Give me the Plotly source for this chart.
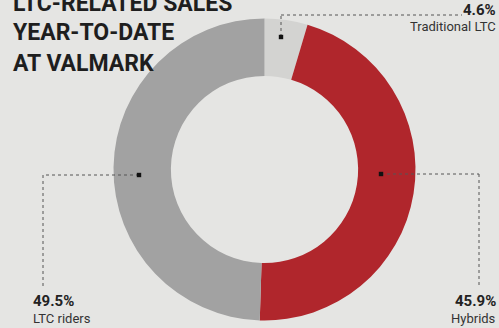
import plotly.graph_objects as go

W, H = 499, 328

labels = ["Traditional LTC", "Hybrids", "LTC riders"]
values = [4.6, 45.9, 49.5]
pct_text = ["4.6%", "45.9%", "49.5%"]
colors = ["#d3d3d1", "#b0262c", "#a2a2a2"]
title_lines = ["LTC-RELATED SALES", "YEAR-TO-DATE", "AT VALMARK"]

BG = "#e5e5e3"
COND = "Roboto, DejaVu Sans Condensed, sans-serif"


def px(x):
    return x / W


def py(y):
    return 1 - y / H


cx, cy, R = 264.5, 169.5, 151

fig = go.Figure()
fig.add_trace(go.Pie(
    labels=labels, values=values, sort=False, direction="clockwise", rotation=0,
    hole=0.62, marker=dict(colors=colors, line=dict(width=0)),
    textinfo="none", hoverinfo="label+percent", showlegend=False,
    domain=dict(x=[px(cx - R), px(cx + R)], y=[py(cy + R), py(cy - R)]),
))

shapes = []
dot = dict(color="#555555", width=1, dash="dot")


def line(x0, y0, x1, y1):
    shapes.append(dict(type="line", xref="paper", yref="paper",
                       x0=px(x0), y0=py(y0), x1=px(x1), y1=py(y1), line=dot))


def marker(x, y, s=2.2):
    shapes.append(dict(type="rect", xref="paper", yref="paper",
                       x0=px(x - s), x1=px(x + s), y0=py(y + s), y1=py(y - s),
                       fillcolor="#111111", line=dict(width=0)))


# Traditional LTC leader
line(281, 37, 281, 15)
line(281, 15, 462, 15)
marker(281, 37)
# Hybrids leader
line(381, 174, 479, 174)
line(479, 174, 479, 286)
marker(381, 174)
# LTC riders leader
line(139, 175, 43, 175)
line(43, 175, 43, 286)
marker(139, 175)

annotations = []


def text(t, x, y, size, xanchor, bold=False, color="#222222", fam=COND):
    annotations.append(dict(text=f"<b>{t}</b>" if bold else t, x=px(x), y=py(y),
                            xref="paper", yref="paper", xanchor=xanchor, yanchor="middle",
                            showarrow=False, font=dict(family=fam, size=size, color=color)))


for i, t in enumerate(title_lines):
    text(t, 11, 3 + i * 30, 23, "left", bold=True, color="#1e1e1e")

text(pct_text[0], 498, 10, 15, "right", bold=True)
text(labels[0], 498, 27, 13, "right", color="#333333")
text(pct_text[1], 498, 301, 15, "right", bold=True)
text(labels[1], 498, 318, 13, "right", color="#333333")
text(pct_text[2], 31, 301, 15, "left", bold=True)
text(labels[2], 31, 318, 13, "left", color="#333333")

fig.update_layout(width=W, height=H, margin=dict(l=0, r=0, t=0, b=0),
                  paper_bgcolor=BG, plot_bgcolor=BG, shapes=shapes,
                  annotations=annotations)
fig.write_html("out.html")
